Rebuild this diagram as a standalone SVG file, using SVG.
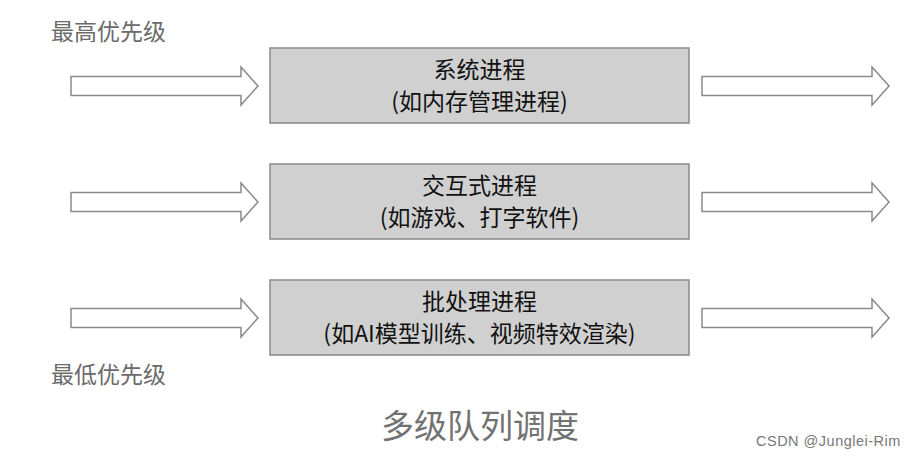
<svg xmlns="http://www.w3.org/2000/svg" width="918" height="459" viewBox="0 0 918 459">
<style>
.box{fill:#d0d0d0;stroke:#8a8a8a;stroke-width:1.5}
.arr{fill:#fff;stroke:#8a8a8a;stroke-width:1.5;stroke-linejoin:miter}
.t{font-family:"Noto Sans CJK SC","Noto Sans",sans-serif;font-size:23px;fill:#111;text-anchor:middle}
.lab{font-family:"Noto Sans CJK SC","Noto Sans",sans-serif;font-size:23px;fill:#6b6b6b}
.title{font-family:"Noto Sans CJK SC","Noto Sans",sans-serif;font-size:33px;fill:#727272;text-anchor:middle}
.wm{font-family:"Liberation Sans","Noto Sans",sans-serif;font-size:14.5px;letter-spacing:0.5px;fill:#777}
</style>
<defs>
<path id="ar" d="M0,-9.5 H170 V-19 L187,0 L170,19 V9.5 H0 Z"/>
</defs>
<text class="lab" x="51" y="40">最高优先级</text>
<text class="lab" x="51" y="383">最低优先级</text>
<g id="connectors">
<use href="#ar" class="arr" x="71" y="86"/>
<use href="#ar" class="arr" x="702" y="86"/>
<use href="#ar" class="arr" x="71" y="202"/>
<use href="#ar" class="arr" x="702" y="202"/>
<use href="#ar" class="arr" x="71" y="318"/>
<use href="#ar" class="arr" x="702" y="318"/>
</g>
<g id="node1">
<rect class="box" x="270" y="48" width="419" height="75"/>
<text class="t" x="479.5" y="78">系统进程</text>
<text class="t" x="479.5" y="110">(如内存管理进程)</text>
</g>
<g id="node2">
<rect class="box" x="270" y="164" width="419" height="75"/>
<text class="t" x="479.5" y="194">交互式进程</text>
<text class="t" x="479.5" y="226">(如游戏、打字软件)</text>
</g>
<g id="node3">
<rect class="box" x="270" y="280" width="419" height="75"/>
<text class="t" x="479.5" y="310">批处理进程</text>
<text class="t" x="479.5" y="342">(如AI模型训练、视频特效渲染)</text>
</g>
<text class="title" x="480" y="438">多级队列调度</text>
<text class="wm" x="756" y="446">CSDN @Junglei-Rim</text>
</svg>
